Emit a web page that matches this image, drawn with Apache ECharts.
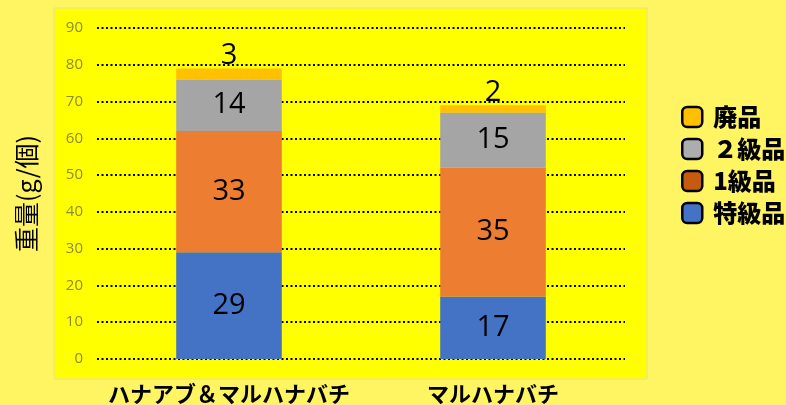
<!DOCTYPE html>
<html>
<head>
<meta charset="utf-8">
<script src="https://cdn.jsdelivr.net/npm/echarts@6/dist/echarts.min.js"></script>
<style>
  html, body { margin: 0; padding: 0; background: #FFF462; }
  #chart { width: 786px; height: 405px; }
</style>
</head>
<body>
<div id="chart"></div>
<script>
const categories = ['ハナアブ＆マルハナバチ', 'マルハナバチ'];
const tokkyu = [29, 17];   // 特級品
const ikkyu = [33, 35];    // 1級品
const nikyu = [14, 15];    // ２級品
const haihin = [3, 2];     // 廃品
const yTicks = [0, 90, 10]; // min, max, interval

const JP = '"Noto Sans CJK JP", "Noto Sans", sans-serif';
const labelFont = {
    show: true,
    color: '#000',
    fontSize: 29,
    fontFamily: '"Open Sans", "Noto Sans", sans-serif'
};

function makeSeries(name, data, color, pos) {
    return {
        name: name,
        type: 'bar',
        stack: 'total',
        barWidth: '40%',
        data: data,
        itemStyle: { color: color },
        label: Object.assign({}, labelFont, { position: pos || 'inside', distance: -2 })
    };
}

const chart = echarts.init(document.getElementById('chart'));
chart.setOption({
    backgroundColor: '#FFF462',
    animation: false,
    graphic: [{
        type: 'rect',
        shape: { x: 54, y: 8, width: 593, height: 371 },
        style: { fill: '#FFFF00', stroke: '#E6DFA0', lineWidth: 1 },
        z: -10
    }],
    grid: { left: 97, right: 161, top: 28, bottom: 45 },
    legend: {
        orient: 'vertical',
        left: 676,
        top: 100,
        itemWidth: 20,
        itemHeight: 20,
        itemGap: 8,
        icon: 'roundRect',
        textStyle: { color: '#000', fontSize: 24, fontWeight: 900, fontFamily: JP, padding: [0, 0, 0, 6] },
        itemStyle: { borderColor: '#000', borderWidth: 2.5 },
        data: [
            { name: '廃品', itemStyle: { color: '#FFC000' } },
            { name: '２級品', itemStyle: { color: '#ADADAD' } },
            { name: '1級品', itemStyle: { color: '#C55A11' } },
            { name: '特級品', itemStyle: { color: '#4472C4' } }
        ]
    },
    xAxis: {
        type: 'category',
        data: categories,
        axisLine: { show: false },
        axisTick: { show: false },
        axisLabel: { interval: 0, color: '#000', fontSize: 22, fontWeight: 'bold', fontFamily: JP, margin: 24 }
    },
    yAxis: {
        type: 'value',
        min: yTicks[0],
        max: yTicks[1],
        interval: yTicks[2],
        name: '重量(g/個)',
        nameLocation: 'middle',
        nameGap: 58,
        nameTextStyle: { color: '#000', fontSize: 25, fontFamily: JP },
        axisLine: { show: false },
        axisTick: { show: false },
        axisLabel: { color: '#8C8C30', fontSize: 15, margin: 14, fontFamily: '"Open Sans", sans-serif' },
        splitLine: { lineStyle: { color: '#000', width: 2, type: [2, 2.5] } }
    },
    series: [
        makeSeries('特級品', tokkyu, '#4472C4'),
        makeSeries('1級品', ikkyu, '#ED7D31'),
        makeSeries('２級品', nikyu, '#A5A5A5'),
        makeSeries('廃品', haihin, '#FFC000', 'top')
    ]
});
</script>
</body>
</html>
